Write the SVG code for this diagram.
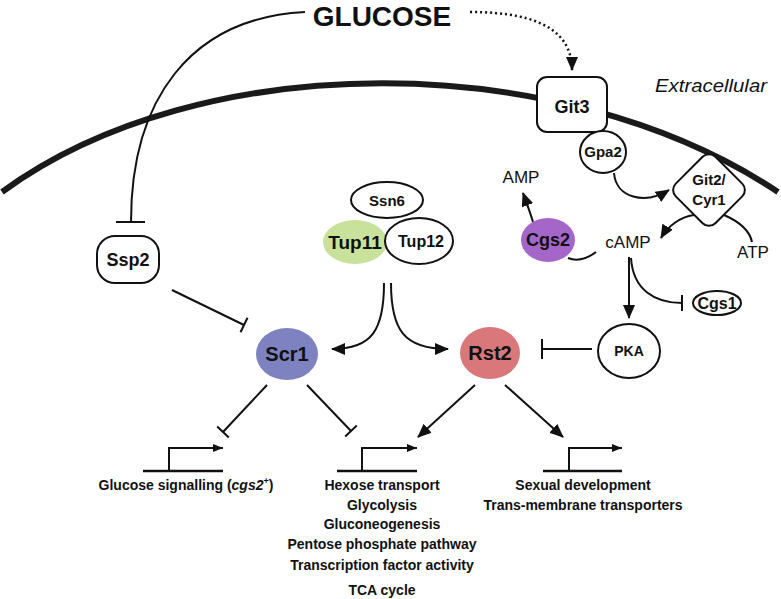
<svg xmlns="http://www.w3.org/2000/svg" width="781" height="599" viewBox="0 0 781 599">
<style>
text{font-family:"Liberation Sans",Arial,sans-serif;fill:#111;text-anchor:middle}
.b{font-weight:bold}
.ln{fill:none;stroke:#111;stroke-width:2}
.nd{fill:#fff;stroke:#111;stroke-width:2}
.gene{fill:none;stroke:#111;stroke-width:2.5}
</style>
<defs>
<marker id="arr" markerUnits="userSpaceOnUse" markerWidth="14" markerHeight="12" viewBox="0 0 14 12" refX="13" refY="6" orient="auto"><path d="M0,0 L14,6 L0,12 z" fill="#111"/></marker>
<marker id="arrS" markerUnits="userSpaceOnUse" markerWidth="10" markerHeight="8" viewBox="0 0 10 8" refX="10" refY="4" orient="auto"><path d="M0,0 L10,4 L0,8 z" fill="#111"/></marker>
<marker id="tee" markerUnits="userSpaceOnUse" markerWidth="4" markerHeight="18" viewBox="0 0 4 18" refX="2" refY="9" orient="auto"><path d="M2,1 L2,17" stroke="#111" stroke-width="2"/></marker>
<marker id="teeL" markerUnits="userSpaceOnUse" markerWidth="4" markerHeight="22" viewBox="0 0 4 22" refX="2" refY="11" orient="auto"><path d="M2,1 L2,21" stroke="#111" stroke-width="2"/></marker>
</defs>

<!-- membrane -->
<path d="M2,192 C200,47 560,47 778,192" fill="none" stroke="#1a1a1a" stroke-width="6"/>
<text x="711" y="92" font-size="18" font-style="italic" textLength="112" lengthAdjust="spacingAndGlyphs">Extracellular</text>

<g id="connectors">
<path class="ln" d="M305,12 C190,18 131,100 131,222"/>
<path d="M116,222 H145" stroke="#111" stroke-width="2"/>
<path d="M470,12 C545,12 572,35 572,70" fill="none" stroke="#111" stroke-width="2.5" stroke-dasharray="2,3" marker-end="url(#arr)"/>
<path class="ln" d="M172,290 L244,325" marker-end="url(#tee)"/>
<path class="ln" d="M384,283 C384,330 372,349 332,349" marker-end="url(#arr)"/>
<path class="ln" d="M391,283 C391,330 404,349 448,349" marker-end="url(#arr)"/>
<path class="ln" d="M267,385 L223,432" marker-end="url(#tee)"/>
<path class="ln" d="M307,385 L351,431" marker-end="url(#tee)"/>
<path class="ln" d="M475,385 L418,437" marker-end="url(#arr)"/>
<path class="ln" d="M505,385 L563,437" marker-end="url(#arr)"/>
<path class="ln" d="M629,257 V318" marker-end="url(#arr)"/>
<path class="ln" d="M631,258 C633,290 655,303 682,303" marker-end="url(#tee)"/>
<path class="ln" d="M592,349 H542" marker-end="url(#teeL)"/>
<path class="ln" d="M568,258 C578,262 588,258 596,252"/>
<path class="ln" d="M533,222 C530,212 527,204 523,193" marker-end="url(#arr)"/>
<path class="ln" d="M614,173 C616,198 645,205 669,190" marker-end="url(#arr)"/>
<path class="ln" d="M694,215 C680,217 668,226 661,238" marker-end="url(#arr)"/>
<path class="ln" d="M724,215 C740,222 750,232 752,242"/>
</g>

<g id="genes">
<path class="gene" d="M143,471 H223"/>
<path class="ln" d="M169,471 V448 H223" marker-end="url(#arrS)"/>
<path class="gene" d="M337,471 H417"/>
<path class="ln" d="M362,471 V448 H417" marker-end="url(#arrS)"/>
<path class="gene" d="M543,471 H622"/>
<path class="ln" d="M569,471 V448 H622" marker-end="url(#arrS)"/>
</g>

<text x="382" y="26" font-size="28" class="b">GLUCOSE</text>

<g id="Ssp2"><rect class="nd" x="97" y="236" width="62" height="47" rx="18"/><text x="128" y="266" font-size="18" class="b">Ssp2</text></g>
<g id="Tup11"><ellipse cx="355" cy="242" rx="32" ry="22" fill="#c8e29c"/><text x="355" y="249" font-size="19" class="b">Tup11</text></g>
<g id="Ssn6"><ellipse class="nd" cx="387" cy="200" rx="36" ry="18"/><text x="387" y="206" font-size="15" class="b">Ssn6</text></g>
<g id="Tup12"><ellipse class="nd" cx="419" cy="241" rx="34" ry="23"/><text x="421" y="247" font-size="16" class="b">Tup12</text></g>
<g id="Scr1"><ellipse cx="287" cy="354" rx="31" ry="26" fill="#7f82c0"/><text x="287" y="361" font-size="20" class="b">Scr1</text></g>
<g id="Rst2"><ellipse cx="490" cy="353" rx="30" ry="26" fill="#d9777b"/><text x="490" y="360" font-size="20" class="b">Rst2</text></g>
<g id="PKA"><ellipse class="nd" cx="629" cy="351" rx="31" ry="27"/><text x="629" y="356" font-size="14" class="b">PKA</text></g>
<g id="Cgs1"><ellipse class="nd" cx="717" cy="303" rx="24" ry="12"/><text x="717" y="309" font-size="16" class="b">Cgs1</text></g>
<g id="Cgs2"><ellipse cx="548" cy="240" rx="27" ry="22" fill="#a467c9"/><text x="548" y="246" font-size="18" class="b">Cgs2</text></g>
<g id="cAMP"><text x="628" y="248" font-size="17">cAMP</text></g>
<g id="AMP"><text x="521" y="183" font-size="17">AMP</text></g>
<g id="ATP"><text x="753" y="258" font-size="17">ATP</text></g>
<g id="Git3"><rect class="nd" x="537" y="77" width="70" height="55" rx="10"/><text x="572" y="113" font-size="18" class="b">Git3</text></g>
<g id="Gpa2"><ellipse class="nd" cx="603" cy="152" rx="23" ry="21"/><text x="603" y="157" font-size="15" class="b">Gpa2</text></g>
<g id="Git2Cyr1"><rect class="nd" x="681" y="162" width="56" height="56" rx="9" transform="rotate(45 709 190)"/><text x="709" y="185" font-size="15" class="b">Git2/</text><text x="709" y="205" font-size="15" class="b">Cyr1</text></g>

<g id="labels" class="b" font-size="14">
<text x="186" y="490" class="b">Glucose signalling (<tspan font-style="italic">cgs2</tspan><tspan font-size="9" dy="-6">+</tspan><tspan dy="6">)</tspan></text>
<text x="382" y="490" class="b">Hexose transport</text>
<text x="382" y="510" class="b">Glycolysis</text>
<text x="382" y="529" class="b">Gluconeogenesis</text>
<text x="382" y="549" class="b">Pentose phosphate pathway</text>
<text x="382" y="570" class="b">Transcription factor activity</text>
<text x="382" y="595" class="b">TCA cycle</text>
<text x="583" y="490" class="b">Sexual development</text>
<text x="583" y="510" class="b">Trans-membrane transporters</text>
</g>
</svg>
